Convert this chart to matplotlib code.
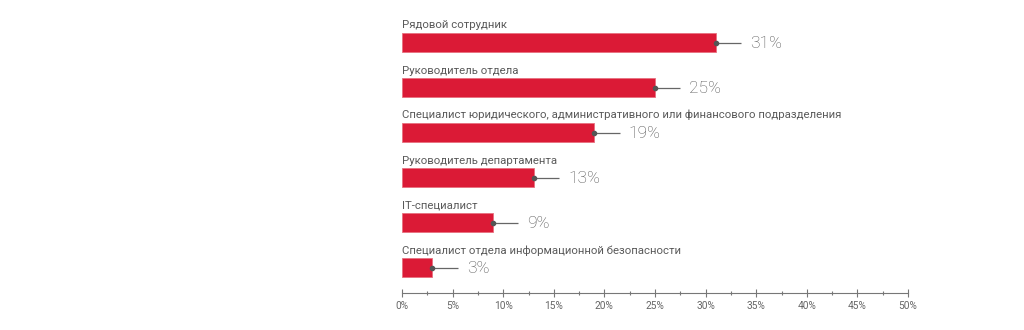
import matplotlib
matplotlib.use('Agg')
import matplotlib.pyplot as plt
from matplotlib.ticker import MultipleLocator, FuncFormatter

plt.rcParams['font.family'] = ['Roboto', 'DejaVu Sans']

roles = ['Рядовой сотрудник',
         'Руководитель отдела',
         'Специалист юридического, административного или финансового подразделения',
         'Руководитель департамента',
         'IT-специалист',
         'Специалист отдела информационной безопасности']
shares = [31, 25, 19, 13, 9, 3]

red = '#DB1A36'
grey = '#5a5a5a'

fig = plt.figure(figsize=(10.24, 3.3), dpi=100)
ax = fig.add_axes([402/1024, (330-293)/330, 506/1024, 283/330])

# y in "pixel rows" from top of axes region
ys = [32.5 + 45*i for i in range(len(roles))]
ax.barh(ys, shares, height=19, color=red, edgecolor='#E8707F', linewidth=0.6)
for y, name, v in zip(ys, roles, shares):
    ax.text(0, y - 12, name, ha='left', va='bottom', fontsize=8.2, color=grey)
    ax.plot([v, v + 2.5], [y, y], color='#666666', lw=0.9, solid_capstyle='butt', clip_on=False)
    ax.plot(v, y, 'o', color='#555555', ms=3, clip_on=False)
    ax.text(v + 3.4, y + 1, f'{v}%', ha='left', va='center', fontsize=12.5,
            fontweight='light', color='#555555')

ax.set_xlim(0, 50)
ax.set_ylim(283, 0)
for s in ['top', 'right', 'left']:
    ax.spines[s].set_visible(False)
ax.spines['bottom'].set_color('#777777')
ax.spines['bottom'].set_linewidth(0.8)
ax.set_yticks([])
ax.xaxis.set_major_locator(MultipleLocator(5))
ax.xaxis.set_minor_locator(MultipleLocator(2.5))
ax.xaxis.set_major_formatter(FuncFormatter(lambda x, p: f'{x:.0f}%'))
ax.tick_params(axis='x', which='major', direction='inout', length=6, width=0.8,
               color='#777777', labelsize=7.3, labelcolor='#666666', pad=3)
ax.tick_params(axis='x', which='minor', direction='inout', length=3, width=0.8, color='#777777')

fig.savefig('out.png', dpi=100)
